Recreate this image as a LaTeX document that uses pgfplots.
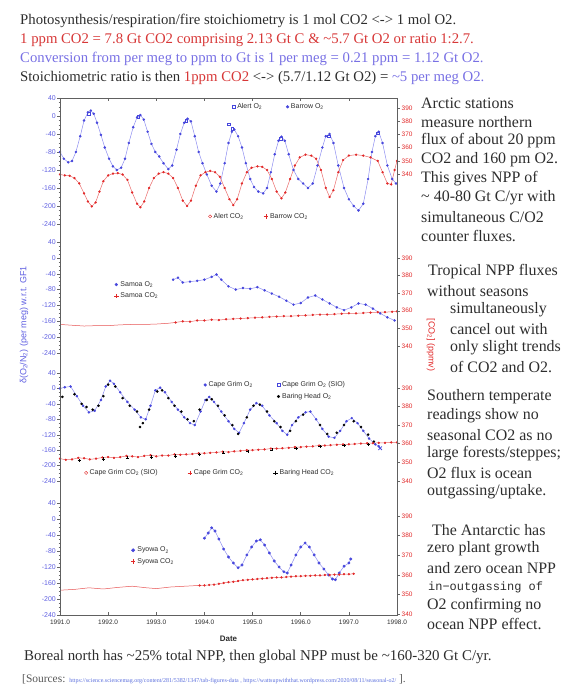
\documentclass[border=0pt]{standalone}
\usepackage{fontspec}
\setmainfont{Liberation Serif}
\setsansfont{Liberation Sans}
\setmonofont{Liberation Mono}
\usepackage{pgfplots}
\pgfplotsset{compat=1.18}
\definecolor{oblue}{RGB}{70,70,220}
\definecolor{oblueL}{RGB}{140,140,240}
\definecolor{cred}{RGB}{225,40,40}
\definecolor{tblue}{RGB}{95,95,225}
\definecolor{txt}{RGB}{45,45,45}
\definecolor{tred}{RGB}{215,55,55}
\definecolor{purp}{RGB}{120,112,228}
\definecolor{lnk}{RGB}{90,110,220}
\pgfkeys{/pgf/number format/assume math mode=true}
\pgfplotsset{
  panel/.style={scale only axis, width=337bp, xmin=1991, xmax=1998, ymin=-240, ymax=40,
    hide x axis, axis y line*=left, y axis line style={gray},
    ytick={-240,-200,...,40}, minor y tick num=3, tick align=outside,
    major tick length=3bp, minor tick length=1.5bp, ytick style={gray!80!black, line width=0.4pt},
    yticklabel style={font=\sffamily\fontsize{7}{8}\selectfont, text=tblue, inner sep=1pt},
    legend cell align=left,
    legend style={draw=none, fill=none, font=\sffamily\fontsize{7}{8}\selectfont, text=txt,
      inner sep=0pt, row sep=1pt, /tikz/every even column/.append style={column sep=24bp}}},
  rpanel/.style={scale only axis, width=337bp, xmin=1991, xmax=1998,
    hide x axis, axis y line*=right, y axis line style={gray},
    ytick={340,350,...,390}, tick align=outside, major tick length=3bp,
    ytick style={gray!80!black, line width=0.4pt},
    yticklabel style={font=\sffamily\fontsize{6.5}{7}\selectfont, text=cred, inner sep=1.5pt},
    legend cell align=left,
    legend style={draw=none, fill=none, font=\sffamily\fontsize{7}{8}\selectfont, text=txt,
      inner sep=0pt, /tikz/every even column/.append style={column sep=24bp}}},
  o2/.style={oblueL, line width=0.5pt, mark=*, mark size=1pt, mark options={draw=oblue, fill=oblue}},
  co2/.style={cred!70, line width=0.5pt, mark=*, mark size=0.9pt, mark options={draw=cred, fill=cred}},
}
\newcommand{\TL}[3]{\node[anchor=west, inner sep=0pt, text=txt, font=\fontsize{16}{18}\selectfont] at (#1,{686-#2}) {#3};}
\begin{document}
\begin{tikzpicture}[x=1bp,y=1bp]
\path[use as bounding box] (0,0) rectangle (564,686);

% ---------------- Panel 1: Alert / Barrow ----------------
\begin{axis}[panel, at={(60bp,462bp)}, anchor=south west, height=126bp,
  legend columns=2, legend style={at={(0.51,0.93)}, anchor=west,
  /tikz/every even column/.append style={column sep=22bp}}]
\addplot[o2, forget plot] coordinates {
(1991.00,-80)(1991.08,-95)(1991.17,-103)(1991.25,-100)(1991.33,-80)(1991.42,-45)(1991.50,-10)(1991.58,8)(1991.64,12)(1991.70,5)(1991.77,-15)(1991.85,-42)(1991.93,-70)(1992.02,-95)(1992.10,-112)(1992.18,-120)(1992.27,-115)(1992.35,-95)(1992.43,-60)(1992.52,-25)(1992.60,-3)(1992.67,2)(1992.74,-8)(1992.82,-35)(1992.90,-62)(1992.98,-80)(1993.06,-90)(1993.15,-105)(1993.25,-118)(1993.33,-110)(1993.42,-75)(1993.50,-40)(1993.58,-15)(1993.65,-6)(1993.72,-12)(1993.80,-45)(1993.88,-80)(1993.96,-105)(1994.05,-130)(1994.15,-155)(1994.25,-168)(1994.33,-150)(1994.42,-105)(1994.50,-60)(1994.57,-35)(1994.62,-30)(1994.70,-45)(1994.78,-70)(1994.86,-105)(1994.95,-140)(1995.03,-158)(1995.12,-168)(1995.22,-172)(1995.30,-160)(1995.38,-125)(1995.46,-85)(1995.54,-55)(1995.60,-46)(1995.67,-55)(1995.75,-85)(1995.85,-120)(1995.95,-140)(1996.05,-150)(1996.15,-160)(1996.25,-150)(1996.35,-110)(1996.45,-70)(1996.52,-45)(1996.60,-40)(1996.68,-60)(1996.78,-110)(1996.90,-160)(1997.00,-185)(1997.10,-200)(1997.20,-210)(1997.30,-195)(1997.40,-140)(1997.48,-80)(1997.55,-45)(1997.62,-35)(1997.70,-60)(1997.80,-110)(1997.90,-140)(1997.98,-150)};
\addplot[only marks, mark=square, mark size=1.3pt, oblue, forget plot] coordinates {
(1991.60,5)(1992.62,-2)(1993.62,-10)(1994.50,-18)(1994.58,-28)(1995.58,-50)(1996.58,-45)(1997.60,-38)};
\addplot[co2, forget plot] coordinates {
(1991.00,-130)(1991.10,-132)(1991.20,-133)(1991.30,-138)(1991.40,-150)(1991.50,-172)(1991.58,-190)(1991.66,-201)(1991.74,-192)(1991.82,-168)(1991.90,-145)(1992.00,-132)(1992.10,-128)(1992.20,-127)(1992.30,-130)(1992.40,-142)(1992.50,-170)(1992.60,-195)(1992.67,-203)(1992.75,-190)(1992.85,-160)(1992.95,-138)(1993.05,-128)(1993.15,-125)(1993.25,-128)(1993.35,-138)(1993.45,-160)(1993.55,-188)(1993.64,-200)(1993.72,-188)(1993.82,-155)(1993.92,-132)(1994.02,-125)(1994.12,-122)(1994.22,-125)(1994.32,-135)(1994.42,-160)(1994.52,-185)(1994.60,-198)(1994.68,-185)(1994.78,-150)(1994.88,-125)(1994.98,-115)(1995.10,-112)(1995.20,-113)(1995.30,-120)(1995.40,-140)(1995.50,-168)(1995.60,-183)(1995.68,-170)(1995.78,-140)(1995.88,-110)(1995.98,-92)(1996.10,-86)(1996.22,-88)(1996.32,-95)(1996.42,-120)(1996.52,-160)(1996.60,-180)(1996.68,-165)(1996.78,-125)(1996.88,-98)(1997.00,-88)(1997.15,-86)(1997.30,-88)(1997.45,-92)(1997.60,-100)(1997.70,-125)(1997.80,-150)(1997.88,-152)(1997.95,-120)(1998.00,-100)};
\addlegendimage{only marks, mark=square, mark size=1.6pt, oblue}
\addlegendentry{Alert O\textsubscript{2}}
\addlegendimage{only marks, mark=*, mark size=1.4pt, oblue}
\addlegendentry{Barrow O\textsubscript{2}}
\end{axis}
\begin{axis}[rpanel, at={(60bp,462bp)}, anchor=south west, height=126bp, ymin=302.1, ymax=397.6,
  legend columns=2, legend style={at={(0.44,0.06)}, anchor=west,
  /tikz/every even column/.append style={column sep=18bp}}]
\addlegendimage{only marks, mark=o, mark size=1.6pt, cred}
\addlegendentry{Alert CO\textsubscript{2}}
\addlegendimage{only marks, mark=+, mark size=2.2pt, cred}
\addlegendentry{Barrow CO\textsubscript{2}}
\end{axis}

% ---------------- Panel 2: Samoa ----------------
\begin{axis}[panel, at={(60bp,333bp)}, anchor=south west, height=111bp,
  legend style={at={(0.16,0.565)}, anchor=west}]
\addplot[o2, forget plot] coordinates {
(1993.35,-55)(1993.45,-50)(1993.55,-62)(1993.70,-60)(1993.85,-58)(1994.00,-55)(1994.15,-48)(1994.25,-42)(1994.35,-55)(1994.50,-72)(1994.65,-80)(1994.80,-76)(1994.95,-78)(1995.10,-74)(1995.25,-82)(1995.40,-90)(1995.55,-98)(1995.70,-108)(1995.85,-118)(1996.00,-114)(1996.15,-100)(1996.30,-95)(1996.45,-105)(1996.60,-115)(1996.75,-125)(1996.90,-132)(1997.05,-125)(1997.20,-115)(1997.35,-118)(1997.50,-128)(1997.65,-140)(1997.80,-150)(1997.95,-158)};
\addplot[cred!80, line width=0.5pt, forget plot] coordinates {
(1991.00,-168)(1991.25,-170)(1991.50,-172)(1991.75,-171)(1992.00,-171)(1992.25,-169)(1992.50,-168)(1992.75,-168)(1993.00,-167)(1993.25,-165)(1993.40,-163)};
\addplot[co2, forget plot] coordinates {
(1993.40,-163)(1993.55,-160)(1993.70,-161)(1993.85,-158)(1994.00,-158)(1994.15,-156)(1994.30,-157)(1994.45,-155)(1994.60,-154)(1994.75,-153)(1994.90,-152)(1995.05,-151)(1995.20,-150)(1995.35,-149)(1995.50,-148)(1995.65,-147)(1995.80,-147)(1995.95,-146)(1996.10,-145)(1996.25,-144)(1996.40,-143)(1996.55,-143)(1996.70,-142)(1996.85,-141)(1997.00,-140)(1997.15,-140)(1997.30,-139)(1997.45,-138)(1997.60,-137)(1997.75,-137)(1997.90,-136)(1998.00,-135)};
\addlegendimage{only marks, mark=*, mark size=1.4pt, oblue}
\addlegendentry{Samoa O\textsubscript{2}}
\addlegendimage{only marks, mark=+, mark size=2.2pt, cred}
\addlegendentry{Samoa CO\textsubscript{2}}
\end{axis}
\begin{axis}[rpanel, at={(60bp,333bp)}, anchor=south west, height=111bp, ymin=336.0, ymax=399.1]
\addplot[draw=none, forget plot] coordinates {(1991,350)};
\end{axis}

% ---------------- Panel 3: Cape Grim / Baring Head ----------------
\begin{axis}[panel, at={(60bp,205bp)}, anchor=south west, height=108bp,
  legend columns=2, legend style={at={(0.405,0.94)}, anchor=north west,
  /tikz/every even column/.append style={column sep=22bp}}]
\addplot[o2, forget plot] coordinates {
(1991.00,0)(1991.10,3)(1991.22,5)(1991.35,-20)(1991.48,-45)(1991.60,-62)(1991.72,-58)(1991.85,-30)(1991.95,5)(1992.04,20)(1992.12,12)(1992.25,-10)(1992.40,-35)(1992.55,-55)(1992.68,-75)(1992.78,-80)(1992.88,-45)(1992.98,-5)(1993.08,2)(1993.18,-10)(1993.32,-35)(1993.45,-55)(1993.58,-75)(1993.70,-90)(1993.80,-95)(1993.92,-60)(1994.02,-30)(1994.10,-22)(1994.20,-35)(1994.35,-60)(1994.50,-85)(1994.62,-105)(1994.72,-115)(1994.82,-90)(1994.95,-55)(1995.08,-38)(1995.20,-45)(1995.35,-70)(1995.50,-90)(1995.62,-110)(1995.72,-120)(1995.82,-95)(1995.95,-75)(1996.10,-62)(1996.20,-60)(1996.32,-80)(1996.45,-105)(1996.58,-125)(1996.70,-128)(1996.82,-110)(1996.95,-85)(1997.06,-77)(1997.18,-90)(1997.30,-110)(1997.42,-130)(1997.55,-145)(1997.62,-150)};
\addplot[only marks, mark=*, mark size=1.1pt, black, forget plot] coordinates {
(1991.05,-22)(1991.30,-15)(1991.45,-40)(1991.55,-48)(1991.68,-55)(1991.80,-45)(1991.90,-20)(1992.00,10)(1992.15,5)(1992.30,-25)(1992.45,-45)(1992.60,-60)(1992.66,-100)(1992.72,-90)(1992.85,-55)(1993.02,-8)(1993.12,-5)(1993.25,-25)(1993.38,-45)(1993.52,-60)(1993.65,-80)(1993.78,-85)(1993.90,-55)(1994.05,-30)(1994.15,-28)(1994.28,-45)(1994.42,-70)(1994.58,-95)(1994.70,-118)(1994.88,-75)(1995.02,-45)(1995.15,-42)(1995.30,-60)(1995.45,-85)(1995.58,-100)(1995.78,-110)(1995.90,-85)(1996.05,-68)(1996.40,-95)(1996.55,-118)(1996.75,-115)(1996.90,-95)(1997.10,-85)(1997.25,-100)(1997.40,-120)(1997.52,-138)};
\addplot[co2, forget plot] coordinates {
(1991.00,-182)(1991.12,-185)(1991.25,-184)(1991.38,-180)(1991.50,-181)(1991.62,-184)(1991.75,-182)(1991.88,-179)(1992.00,-178)(1992.12,-180)(1992.25,-178)(1992.38,-175)(1992.50,-176)(1992.62,-178)(1992.75,-175)(1992.88,-173)(1993.00,-176)(1993.12,-174)(1993.25,-174)(1993.38,-171)(1993.50,-172)(1993.62,-171)(1993.75,-170)(1993.88,-168)(1994.00,-168)(1994.12,-167)(1994.25,-166)(1994.38,-164)(1994.50,-165)(1994.62,-163)(1994.75,-162)(1994.88,-160)(1995.00,-160)(1995.12,-159)(1995.25,-158)(1995.38,-156)(1995.50,-156)(1995.62,-155)(1995.75,-154)(1995.88,-152)(1996.00,-152)(1996.12,-151)(1996.25,-150)(1996.38,-148)(1996.50,-148)(1996.62,-147)(1996.75,-146)(1996.88,-145)(1997.00,-145)(1997.12,-144)(1997.25,-143)(1997.38,-142)(1997.50,-142)(1997.62,-141)(1997.75,-141)(1997.88,-140)(1998.00,-140)};
\addplot[only marks, mark=+, mark size=1.6pt, black, forget plot] coordinates {
(1991.40,-186)(1991.90,-183)(1992.40,-180)(1992.90,-178)(1993.40,-175)(1993.90,-171)(1994.40,-167)(1994.90,-163)(1995.40,-159)(1995.90,-155)(1996.40,-151)(1996.90,-148)(1997.40,-145)};
\addplot[only marks, mark=x, mark size=2.5pt, oblue, line width=0.8pt, forget plot] coordinates {(1997.65,-155)};
\addlegendimage{only marks, mark=*, mark size=1.4pt, oblue}
\addlegendentry{Cape Grim O\textsubscript{2}}
\addlegendimage{only marks, mark=square, mark size=1.6pt, oblue}
\addlegendentry{Cape Grim O\textsubscript{2} (SIO)}
\addlegendimage{empty legend}
\addlegendentry{}
\addlegendimage{only marks, mark=*, mark size=1.4pt, black}
\addlegendentry{Baring Head O\textsubscript{2}}
\end{axis}
\begin{axis}[rpanel, at={(60bp,205bp)}, anchor=south west, height=108bp, ymin=339.9, ymax=398.1,
  legend columns=3, legend style={at={(0.072,0.075)}, anchor=west,
  /tikz/every even column/.append style={column sep=28bp}}]
\addlegendimage{only marks, mark=o, mark size=1.6pt, cred}
\addlegendentry{Cape Grim CO\textsubscript{2} (SIO)}
\addlegendimage{only marks, mark=+, mark size=2.2pt, cred}
\addlegendentry{Cape Grim CO\textsubscript{2}}
\addlegendimage{only marks, mark=+, mark size=2.2pt, black}
\addlegendentry{Baring Head CO\textsubscript{2}}
\end{axis}

% ---------------- Panel 4: Syowa ----------------
\begin{axis}[panel, at={(60bp,71bp)}, anchor=south west, height=112bp,
  legend style={at={(0.21,0.527)}, anchor=west}]
\addplot[o2, mark size=1.2pt, forget plot] coordinates {
(1994.00,-48)(1994.08,-35)(1994.15,-22)(1994.22,-30)(1994.30,-50)(1994.40,-75)(1994.50,-95)(1994.60,-110)(1994.70,-122)(1994.78,-115)(1994.88,-90)(1994.98,-70)(1995.08,-55)(1995.16,-52)(1995.25,-65)(1995.35,-85)(1995.45,-105)(1995.55,-120)(1995.65,-132)(1995.72,-135)(1995.80,-115)(1995.90,-90)(1996.00,-70)(1996.09,-60)(1996.18,-70)(1996.28,-90)(1996.38,-110)(1996.48,-125)(1996.58,-140)(1996.66,-150)(1996.72,-152)(1996.80,-135)(1996.90,-118)(1997.00,-110)(1997.04,-100)};
\addplot[cred!80, line width=0.5pt, forget plot] coordinates {
(1991.00,-178)(1991.30,-176)(1991.60,-172)(1991.90,-175)(1992.20,-171)(1992.50,-168)(1992.80,-172)(1993.00,-174)(1993.30,-170)(1993.60,-168)(1993.90,-166)};
\addplot[co2, forget plot] coordinates {
(1993.90,-166)(1994.00,-166)(1994.10,-165)(1994.20,-164)(1994.30,-162)(1994.40,-160)(1994.50,-158)(1994.60,-157)(1994.70,-155)(1994.80,-153)(1994.90,-152)(1995.00,-151)(1995.10,-150)(1995.20,-149)(1995.30,-148)(1995.40,-147)(1995.50,-146)(1995.60,-146)(1995.70,-145)(1995.80,-144)(1995.90,-143)(1996.00,-143)(1996.10,-142)(1996.20,-142)(1996.30,-141)(1996.40,-141)(1996.50,-140)(1996.60,-140)(1996.70,-139)(1996.80,-139)(1996.90,-138)(1997.00,-138)(1997.10,-137)};
\addlegendimage{only marks, mark=*, mark size=1.7pt, oblue}
\addlegendentry{Syowa O\textsubscript{2}}
\addlegendimage{only marks, mark=+, mark size=2.2pt, cred}
\addlegendentry{Syowa CO\textsubscript{2}}
\end{axis}
\begin{axis}[rpanel, at={(60bp,71bp)}, anchor=south west, height=112bp, ymin=339.5, ymax=396.7]
\addplot[draw=none, forget plot] coordinates {(1991,350)};
\end{axis}

% ---------------- Outer frame ----------------
\begin{axis}[at={(60bp,71bp)}, anchor=south west, scale only axis, width=337bp, height=517bp,
  xmin=1991, xmax=1998, ymin=0, ymax=1, ytick=\empty,
  xtick={1991,1992,1993,1994,1995,1996,1997,1998},
  xticklabels={1991.0,1992.0,1993.0,1994.0,1995.0,1996.0,1997.0,1998.0},
  tick align=inside, major tick length=3bp, xtick style={gray!80!black, line width=0.5pt},
  axis line style={gray!75!black, line width=0.7pt},
  xticklabel style={font=\sffamily\fontsize{6.5}{7}\selectfont, text=txt, inner sep=1pt, yshift=-4bp}]
\addplot[draw=none, forget plot] coordinates {(1991,0.5)};
\end{axis}

% ---------------- Axis labels ----------------
\node[font=\sffamily\bfseries\fontsize{8}{9}\selectfont, text=txt] at (228.5,{686-639}) {Date};
\node[rotate=90, text=tblue, font=\sffamily\fontsize{9}{10}\selectfont] at (24,{686-325}) {δ(O\textsubscript{2}/N\textsubscript{2}) (per meg) w.r.t. GF1};
\node[rotate=-90, text=cred, font=\sffamily\fontsize{9}{10}\selectfont] at (431,{686-345}) {[CO\textsubscript{2}] (ppmv)};

% ---------------- Top and bottom text ----------------
\begin{scope}[every node/.style={anchor=west, inner sep=0pt, font=\fontsize{14.8}{17}\selectfont}]
\node[text=txt] at (20,{686-21}) {Photosynthesis/respiration/fire stoichiometry is 1 mol CO2 <-> 1 mol O2.};
\node[text=tred] at (20,{686-40}) {1 ppm CO2 = 7.8 Gt CO2 comprising 2.13 Gt C \& \textasciitilde5.7 Gt O2 or ratio 1:2.7.};
\node[text=purp] at (20,{686-59}) {Conversion from per meg to ppm to Gt is 1 per meg = 0.21 ppm = 1.12 Gt O2.};
\node[text=txt] at (20,{686-78}) {Stoichiometric ratio is then \textcolor{tred}{1ppm CO2} <-> (5.7/1.12 Gt O2) = \textcolor{purp}{\textasciitilde5 per meg O2.}};
\node[text=txt, font=\fontsize{15}{17}\selectfont] at (24,{686-657}) {Boreal north has \textasciitilde25\% total NPP, then global NPP must be \textasciitilde160-320 Gt C/yr.};
\node[text=txt!80, font=\fontsize{11.5}{13}\selectfont] at (22,{686-679}) {[Sources: {\color{lnk}\fontsize{6}{7}\selectfont https://science.sciencemag.org/content/281/5382/1347/tab-figures-data , https://wattsupwiththat.wordpress.com/2020/08/11/seasonal-o2/} ].};
\end{scope}

% ---------------- Right text column ----------------
\TL{421}{103}{Arctic stations}
\TL{421}{122}{measure northern}
\TL{421}{141}{flux of about 20 ppm}
\TL{421}{160}{CO2 and 160 pm O2.}
\TL{421}{179}{This gives NPP of}
\TL{421}{198}{\textasciitilde{} 40-80 Gt C/yr with}
\TL{421}{217}{simultaneous C/O2}
\TL{421}{236}{counter fluxes.}
\TL{428}{272}{Tropical NPP fluxes}
\TL{427}{291}{without seasons}
\TL{450}{310}{simultaneously}
\TL{450}{329}{cancel out with}
\TL{450}{348}{only slight trends}
\TL{450}{367}{of CO2 and O2.}
\TL{427}{397}{Southern temperate}
\TL{427}{416}{readings show no}
\TL{427}{435}{seasonal CO2 as no}
\TL{427}{454}{large forests/steppes;}
\TL{427}{473}{O2 flux is ocean}
\TL{427}{492}{outgassing/uptake.}
\TL{432}{530}{The Antarctic has}
\TL{427}{549}{zero plant growth}
\TL{427}{568}{and zero ocean NPP}
\node[anchor=west, inner sep=0pt, text=txt, font=\ttfamily\fontsize{12}{13}\selectfont] at (428,{686-587}) {in−outgassing of};
\TL{427}{606}{O2 confirming no}
\TL{427}{624}{ocean NPP effect.}
\end{tikzpicture}
\end{document}
